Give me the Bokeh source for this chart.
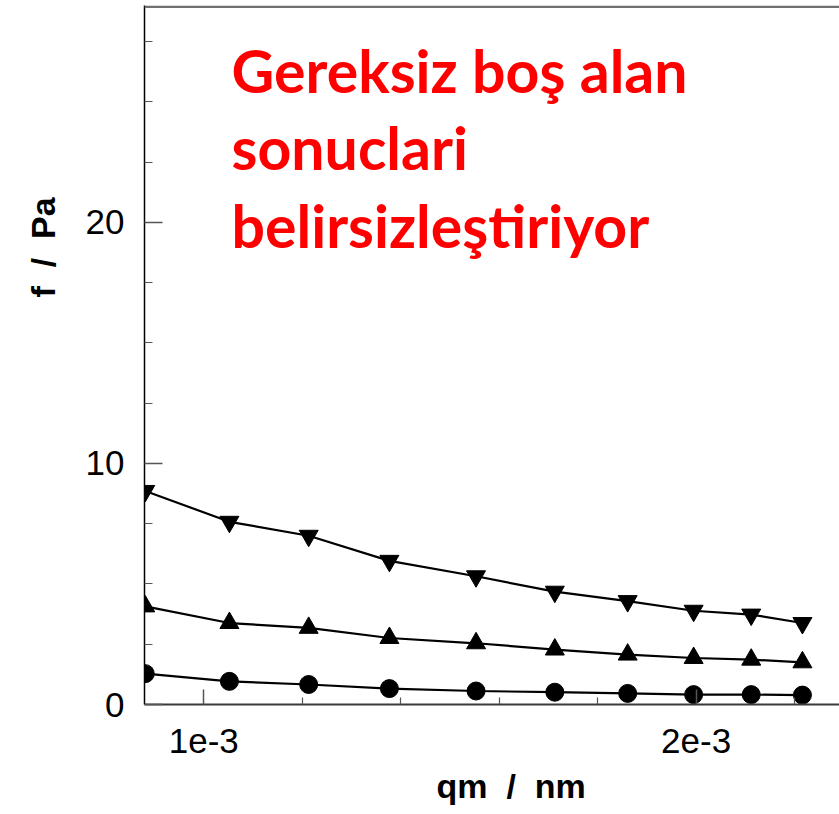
from bokeh.plotting import figure
from bokeh.models import Range1d, FixedTicker, Label, BoxAnnotation, Title
from bokeh.embed import file_html
from bokeh.resources import INLINE

# ---- data ----
qm = [0.881e-3, 1.052e-3, 1.213e-3, 1.377e-3, 1.553e-3,
      1.713e-3, 1.861e-3, 1.995e-3, 2.112e-3, 2.216e-3]
f_down = [8.86, 7.58, 7.00, 5.96, 5.32, 4.68, 4.29, 3.89, 3.73, 3.38]
f_up = [4.07, 3.38, 3.18, 2.76, 2.54, 2.28, 2.07, 1.93, 1.86, 1.75]
f_circle = [1.28, 0.96, 0.83, 0.66, 0.56, 0.51, 0.46, 0.41, 0.41, 0.39]

x_major = [1e-3, 2e-3]
x_minor = [1.2e-3, 1.4e-3, 1.6e-3, 1.8e-3, 2.2e-3]
x_tick_labels = {1e-3: "1e-3", 2e-3: "2e-3"}
y_major = [0, 10, 20]
y_minor = [2.5, 5, 7.5, 12.5, 15, 17.5, 22.5, 25, 27.5]

x_start, x_end = 0.8795e-3, 2.2913e-3
y_start, y_end = 0.0, 29.0

annotation_lines = ["Gereksiz boş alan", "sonuclari", "belirsizleştiriyor"]
NB = "\u00a0"
x_label = "qm" + NB * 2 + "/" + NB * 2 + "nm"
y_label = "f" + NB * 2 + "/" + NB * 2 + "Pa"

p = figure(width=839, height=814, output_backend="svg", toolbar_location=None,
           x_range=Range1d(x_start, x_end), y_range=Range1d(y_start, y_end),
           min_border_left=143, min_border_right=0, min_border_top=5,
           min_border_bottom=109)
p.outline_line_color = None
p.grid.visible = False
p.background_fill_color = "white"
p.border_fill_color = "white"

# y axis
ya = p.yaxis[0]
ya.ticker = FixedTicker(ticks=y_major, minor_ticks=y_minor)
ya.axis_line_color = "black"
ya.axis_line_width = 1.5
ya.major_tick_in = 18
ya.major_tick_out = 0
ya.minor_tick_in = 8
ya.minor_tick_out = 0
ya.major_tick_line_color = "#555555"
ya.major_tick_line_width = 1.5
ya.minor_tick_line_color = "#555555"
ya.minor_tick_line_width = 1.2
ya.major_label_text_font = "Liberation Sans"
ya.major_label_text_font_size = "35px"
ya.major_label_text_color = "black"
ya.major_label_standoff = 20

# x axis
xa = p.xaxis[0]
xa.ticker = FixedTicker(ticks=x_major, minor_ticks=x_minor)
xa.major_label_overrides = x_tick_labels
xa.axis_line_color = "#3a3a3a"
xa.axis_line_width = 2
xa.major_tick_in = 15
xa.major_tick_out = 0
xa.minor_tick_in = 7
xa.minor_tick_out = 0
xa.major_tick_line_color = "#555555"
xa.major_tick_line_width = 1.5
xa.minor_tick_line_color = "#555555"
xa.minor_tick_line_width = 1.2
xa.major_label_text_font = "Liberation Sans"
xa.major_label_text_font_size = "35px"
xa.major_label_text_color = "black"
xa.major_label_standoff = 24

# top border line (gray)
p.add_layout(BoxAnnotation(bottom=28.9, fill_color="#707070",
                           fill_alpha=1, line_color=None))

# series
for ys, marker, size in [(f_down, "inverted_triangle", 19),
                         (f_up, "triangle", 19),
                         (f_circle, "circle", 18)]:
    p.line(qm, ys, line_color="black", line_width=2.2)
    p.scatter(qm, ys, marker=marker, size=size, fill_color="black",
              line_color="black")

# axis titles
p.add_layout(Title(text=x_label, align="left", offset=292, standoff=19,
                   text_font="Liberation Sans", text_font_style="bold",
                   text_font_size="34px", text_color="black"), "below")
p.add_layout(Title(text=y_label, align="left", offset=407, standoff=42,
                   text_font="Liberation Sans", text_font_style="bold",
                   text_font_size="34px", text_color="black"), "left")

# red annotation
for line, yb in zip(annotation_lines, [634, 557, 479]):
    p.add_layout(Label(x=87, y=yb, x_units="screen", y_units="screen",
                       text=line, text_font="Lato", text_font_style="bold",
                       text_font_size="59px", text_color="#FF0000",
                       text_align="left", text_baseline="alphabetic"))

open("out.html", "w").write(file_html(p, INLINE))
